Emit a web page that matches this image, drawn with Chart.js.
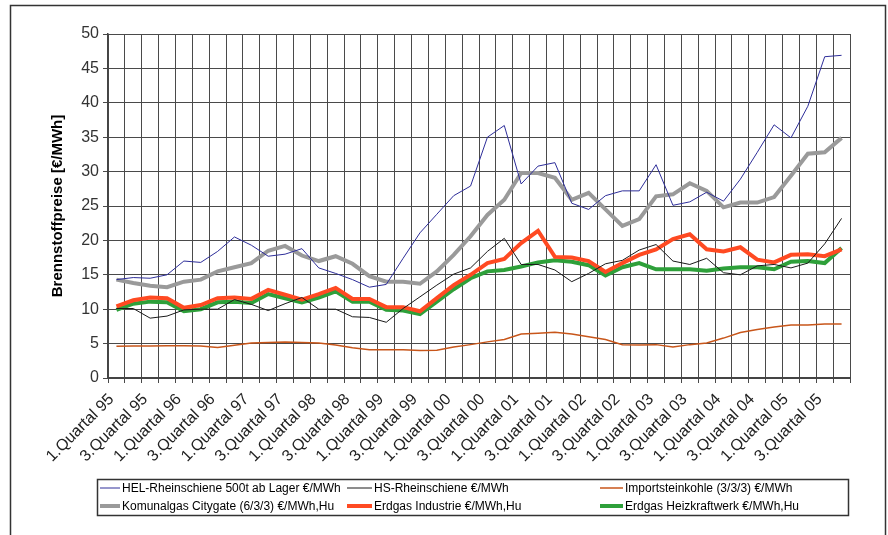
<!DOCTYPE html>
<html lang="de">
<head>
    <meta charset="UTF-8">
    <title>Brennstoffpreise</title>
    <script src="https://cdn.jsdelivr.net/npm/chart.js"></script>
    <style>
        html, body { margin: 0; padding: 0; background: #fff; }
        #wrap { position: relative; width: 888px; height: 535px; }
    </style>
</head>
<body>
    <div id="wrap">
        <canvas id="preise" width="888" height="535"></canvas>
    </div>

    <script>
        // Quartale 1/95 bis 4/05
        const years = ['95', '96', '97', '98', '99', '00', '01', '02', '03', '04', '05'];
        const quarters = [];
        years.forEach(function (y) {
            for (let q = 1; q <= 4; q++) quarters.push(q + '.Quartal ' + y);
        });

        const yTicks = [0, 5, 10, 15, 20, 25, 30, 35, 40, 45, 50];

        const hel = [14.3, 14.6, 14.5, 15.0, 17.0, 16.8, 18.4, 20.5, 19.3, 17.7, 18.0, 18.8, 16.0, 15.2, 14.3, 13.2,
            13.6, 17.4, 21.1, 23.8, 26.5, 27.9, 35.0, 36.7, 28.2, 30.8, 31.3, 25.4, 24.5, 26.5, 27.2, 27.2,
            31.0, 25.1, 25.6, 27.0, 25.7, 28.9, 32.8, 36.8, 34.9, 39.5, 46.7, 46.9];
        const hs = [10.1, 10.1, 8.7, 9.0, 9.9, 10.0, 10.0, 11.4, 10.7, 9.8, 10.8, 11.7, 10.0, 10.0, 8.9, 8.8,
            8.1, 10.1, 11.8, 13.5, 15.1, 16.0, 18.4, 20.3, 16.5, 16.5, 15.7, 14.0, 15.2, 16.6, 17.1, 18.6,
            19.4, 17.0, 16.5, 17.4, 15.3, 15.0, 16.3, 16.5, 16.0, 16.7, 19.5, 23.2];
        const kohle = [4.6, 4.65, 4.65, 4.7, 4.7, 4.65, 4.45, 4.75, 5.1, 5.15, 5.25, 5.15, 5.1, 4.8, 4.4, 4.1,
            4.1, 4.1, 4.0, 4.05, 4.5, 4.85, 5.25, 5.6, 6.4, 6.5, 6.65, 6.4, 6.0, 5.6, 4.85, 4.8,
            4.85, 4.5, 4.85, 5.1, 5.8, 6.6, 7.05, 7.4, 7.7, 7.7, 7.85, 7.85];
        const komunalgas = [14.3, 13.8, 13.4, 13.2, 14.0, 14.3, 15.5, 16.1, 16.7, 18.5, 19.2, 17.8, 17.0, 17.7, 16.6, 14.8,
            14.0, 14.0, 13.7, 15.5, 17.9, 20.6, 23.7, 25.9, 29.8, 29.8, 29.1, 25.9, 26.9, 24.5, 22.1, 23.1,
            26.4, 26.7, 28.3, 27.2, 24.8, 25.5, 25.5, 26.3, 29.4, 32.6, 32.8, 34.9];
        const industrie = [10.4, 11.3, 11.7, 11.6, 10.2, 10.6, 11.6, 11.7, 11.5, 12.8, 12.1, 11.4, 12.2, 13.1, 11.5, 11.5,
            10.3, 10.3, 9.7, 11.6, 13.5, 15.0, 16.7, 17.3, 19.6, 21.4, 17.6, 17.5, 17.0, 15.4, 16.7, 17.9,
            18.7, 20.2, 20.9, 18.7, 18.4, 19.0, 17.2, 16.8, 17.9, 18.0, 17.7, 18.7];
        const heizkraftwerk = [9.9, 10.8, 11.1, 11.0, 9.7, 10.0, 11.0, 11.1, 10.9, 12.2, 11.6, 11.0, 11.7, 12.6, 11.1, 11.1,
            9.9, 9.8, 9.3, 11.1, 12.9, 14.5, 15.5, 15.7, 16.2, 16.8, 17.1, 16.9, 16.4, 14.9, 16.1, 16.7,
            15.8, 15.8, 15.8, 15.6, 15.9, 16.1, 16.1, 15.8, 16.9, 17.0, 16.7, 18.9];

        const seriesNames = [
            'HEL-Rheinschiene 500t ab Lager €/MWh',
            'HS-Rheinschiene €/MWh',
            'Importsteinkohle (3/3/3) €/MWh',
            'Komunalgas Citygate (6/3/3) €/MWh,Hu',
            'Erdgas Industrie €/MWh,Hu',
            'Erdgas Heizkraftwerk €/MWh,Hu'
        ];

        const fontFam = '"Liberation Sans", Arial, sans-serif';

        function line(label, data, color, width) {
            return {
                label: label,
                data: data,
                borderColor: color,
                backgroundColor: color,
                borderWidth: width,
                pointRadius: 0,
                tension: 0,
                fill: false
            };
        }

        // Rahmen um das ganze Bild + Legendenkasten (3 Spalten, 2 Zeilen)
        const framePlugin = {
            id: 'frame',
            beforeDraw: function (chart) {
                const c = chart.ctx;
                c.save();
                c.fillStyle = '#fff';
                c.fillRect(0, 0, chart.width, chart.height);
                c.strokeStyle = '#333';
                c.lineWidth = 1.5;
                c.strokeRect(10.5, 5.5, 875, 560);
                c.restore();
            },
            afterDraw: function (chart) {
                const c = chart.ctx;
                c.save();
                c.strokeStyle = '#333';
                c.lineWidth = 1.5;
                c.strokeRect(97.5, 479.5, 751, 36);
                // [Linienanfang, Linienende, Textanfang]
                const cols = [[100, 120, 122], [347, 372, 374], [600, 623, 625]];
                const rows = [488, 506];
                c.font = '12px ' + fontFam;
                c.textBaseline = 'middle';
                c.fillStyle = '#000';
                chart.data.datasets.forEach(function (ds, i) {
                    const col = cols[i % 3];
                    const y = rows[Math.floor(i / 3)];
                    c.strokeStyle = ds.borderColor;
                    c.lineWidth = ds.borderWidth;
                    c.beginPath();
                    c.moveTo(col[0], y);
                    c.lineTo(col[1], y);
                    c.stroke();
                    c.fillText(ds.label, col[2], y + 0.5);
                });
                c.restore();
            }
        };

        const ctx = document.getElementById('preise').getContext('2d');
        const chart = new Chart(ctx, {
            type: 'line',
            data: {
                labels: quarters,
                datasets: [
                    line(seriesNames[0], hel, '#2E2E9A', 1),
                    line(seriesNames[1], hs, '#1a1a1a', 1),
                    line(seriesNames[2], kohle, '#C8561A', 1.5),
                    line(seriesNames[3], komunalgas, '#9a9a9a', 4),
                    line(seriesNames[4], industrie, '#FF4A22', 4),
                    line(seriesNames[5], heizkraftwerk, '#2EA03A', 4)
                ]
            },
            options: {
                responsive: false,
                animation: false,
                layout: { padding: { left: 40, right: 38, top: 34, bottom: 57 } },
                plugins: {
                    legend: { display: false },
                    tooltip: { enabled: false }
                },
                scales: {
                    x: {
                        offset: true,
                        grid: { offset: true, color: '#4a4a4a', lineWidth: 1, tickLength: 5 },
                        border: { color: '#444', width: 2 },
                        afterFit: function (s) { s.height = 100; },
                        ticks: {
                            autoSkip: false,
                            maxRotation: 45,
                            minRotation: 45,
                            padding: 7,
                            labelOffset: -5,
                            color: '#222',
                            font: { family: fontFam, size: 16 },
                            callback: function (v, i) {
                                return i % 2 === 0 ? quarters[i] : '';
                            }
                        }
                    },
                    y: {
                        min: yTicks[0],
                        max: yTicks[yTicks.length - 1],
                        afterFit: function (s) { s.width = 68; },
                        afterBuildTicks: function (s) {
                            s.ticks = yTicks.map(function (v) { return { value: v }; });
                        },
                        grid: { color: '#4a4a4a', lineWidth: 1, tickLength: 5 },
                        border: { color: '#444', width: 1.5 },
                        ticks: {
                            color: '#333',
                            padding: 4,
                            font: { family: fontFam, size: 16 }
                        },
                        title: {
                            display: true,
                            text: 'Brennstoffpreise [€/MWh]',
                            color: '#000',
                            padding: { top: 9, bottom: 0 },
                            font: { family: fontFam, size: 15, weight: 'bold' }
                        }
                    }
                }
            },
            plugins: [framePlugin]
        });
    </script>
</body>
</html>
